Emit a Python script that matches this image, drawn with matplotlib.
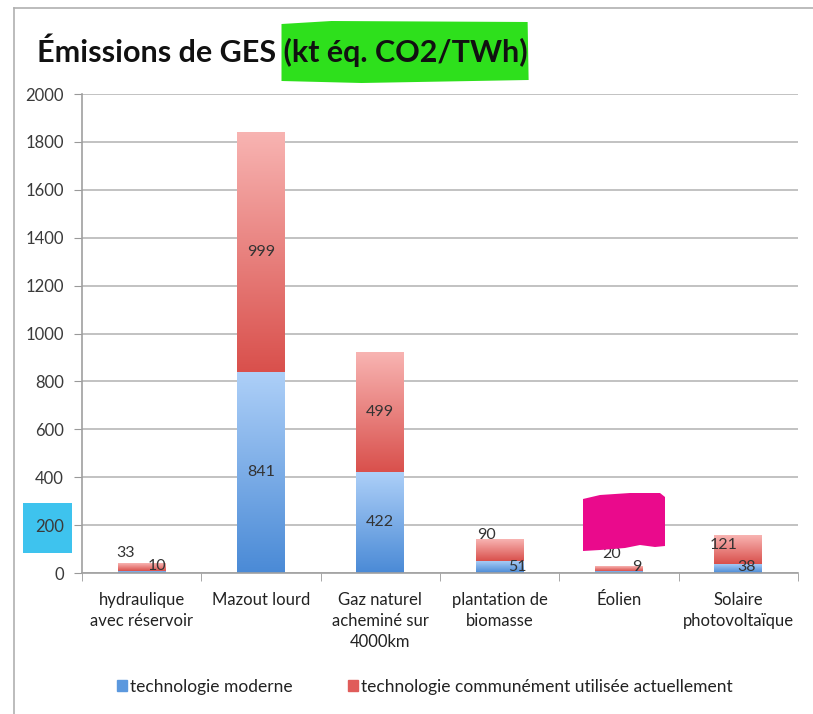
import numpy as np
import matplotlib
matplotlib.use("Agg")
import matplotlib.pyplot as plt
from matplotlib.colors import LinearSegmentedColormap
from matplotlib.patches import Polygon, Rectangle
from matplotlib.lines import Line2D

categories = ["hydraulique\navec réservoir", "Mazout lourd",
              "Gaz naturel\nacheminé sur\n4000km", "plantation de\nbiomasse",
              "Éolien", "Solaire\nphotovoltaïque"]
moderne = [10, 841, 422, 51, 9, 38]
actuelle = [33, 999, 499, 90, 20, 121]
series_names = ["technologie moderne", "technologie communément utilisée actuellement"]
yticks = list(range(0, 2001, 200))

# where the value labels sit, in pixels from the middle of each segment
off_moderne = [(15, 6), (0, 0), (0, 0), (18, 0), (18, 5), (8, 1)]
off_actuelle = [(-16, 14), (0, 0), (0, 0), (-13, 15), (-7, 14), (-15, 4)]

W, H = 813, 714
plt.rcParams["font.family"] = ["Lato", "DejaVu Sans"]
fig = plt.figure(figsize=(W / 100, H / 100), dpi=100)
ax = fig.add_axes([82 / W, 141 / H, (798 - 82) / W, (573 - 94) / H])

blue = LinearSegmentedColormap.from_list("b", ["#4a8ad6", "#aed0f8"])
red = LinearSegmentedColormap.from_list("r", ["#d9504c", "#f8b4b2"])
grad = np.linspace(1, 0, 256).reshape(-1, 1)
width = 0.4
x = np.arange(len(categories))


def grad_bar(xc, bottom, height, cmap):
    b = ax.bar(xc, height, width, bottom=bottom, color="none", edgecolor="none")[0]
    im = ax.imshow(grad, cmap=cmap, aspect="auto", zorder=2,
                   extent=[xc - width / 2, xc + width / 2, bottom, bottom + height])
    im.set_clip_path(b)


for i in range(len(categories)):
    grad_bar(x[i], 0, moderne[i], blue)
    grad_bar(x[i], moderne[i], actuelle[i], red)
    ax.annotate(str(moderne[i]), (x[i], moderne[i] / 2), xytext=off_moderne[i],
                textcoords="offset pixels", ha="center", va="center",
                fontsize=11.5, color="#333333", zorder=4)
    ax.annotate(str(actuelle[i]), (x[i], moderne[i] + actuelle[i] / 2), xytext=off_actuelle[i],
                textcoords="offset pixels", ha="center", va="center",
                fontsize=11.5, color="#333333", zorder=4)

ax.set_xlim(-0.5, len(categories) - 0.5)
ax.set_ylim(0, 2000)
ax.set_yticks(yticks)
ax.set_xticks(x)
ax.set_xticklabels(categories, fontsize=12, color="#222222", linespacing=1.35)
ax.set_xticks(np.arange(-0.5, len(categories)), minor=True)
ax.tick_params(axis="x", which="major", length=0, pad=14)
ax.tick_params(axis="x", which="minor", length=6, color="#999999")
ax.tick_params(axis="y", length=6, color="#999999", labelsize=12, labelcolor="#3a3a3a", pad=7)
ax.grid(axis="y", color="#b8b8b8", linewidth=1.2)
ax.set_axisbelow(True)
for s in ["top", "right"]:
    ax.spines[s].set_visible(False)
for s in ["left", "bottom"]:
    ax.spines[s].set_color("#a0a0a0")
    ax.spines[s].set_linewidth(1.2)

handles = [Rectangle((0, 0), 1, 1, color="#5b98de"), Rectangle((0, 0), 1, 1, color="#e05c5a")]
fig.legend(handles, series_names, loc="center", bbox_to_anchor=(0.523, 0.038), ncol=2,
           frameon=False, handlelength=0.55, handleheight=0.55, handletextpad=0.2,
           columnspacing=3.2, fontsize=12.5, labelcolor="#222222")

# title with the green highlight behind the unit
full = "Émissions de GES (kt éq. CO2/TWh)"
unit = "(kt éq. CO2/TWh)"
tfs = 22
t = fig.text(37 / W, (H - 62) / H, full, fontsize=tfs, fontweight="bold", va="baseline",
             color="#111111", zorder=5)
tmp = fig.text(0, 0, unit, fontsize=tfs, fontweight="bold")
r = fig.canvas.get_renderer()
wf = t.get_window_extent(r).width
wu = tmp.get_window_extent(r).width
tmp.remove()
x1 = 37 + wf
x0 = x1 - wu - 2
pts = [(x0, 24), (x0 + 50, 21), (x1, 22), (x1 + 1, 80), (x0 + 80, 83), (x0, 81)]
fig.patches.append(Polygon([(px / W, (H - py) / H) for px, py in pts], closed=True,
                           transform=fig.transFigure, facecolor="#2ee01c", edgecolor="none", zorder=1))

# cyan block over the 200 label, magenta scribble over Éolien
fig.patches.append(Rectangle((23 / W, (H - 553) / H), 49 / W, 50 / H, transform=fig.transFigure,
                             facecolor="#3ec3ee", edgecolor="none", zorder=-1))
blob = [(583, 499), (600, 495), (630, 493), (660, 493), (665, 497), (665, 546),
        (655, 547), (640, 545), (625, 548), (600, 550), (583, 551)]
fig.patches.append(Polygon([(px / W, (H - py) / H) for px, py in blob], closed=True,
                           transform=fig.transFigure, facecolor="#ea0a8c", edgecolor="none", zorder=10))

# frame of the screenshot
fig.lines.append(Line2D([14 / W, 14 / W], [0, (H - 8) / H], transform=fig.transFigure,
                        color="#b0b0b0", linewidth=1.2))
fig.lines.append(Line2D([14 / W, 1], [(H - 8) / H, (H - 8) / H], transform=fig.transFigure,
                        color="#b0b0b0", linewidth=1.2))

fig.savefig("out.png", dpi=100)
